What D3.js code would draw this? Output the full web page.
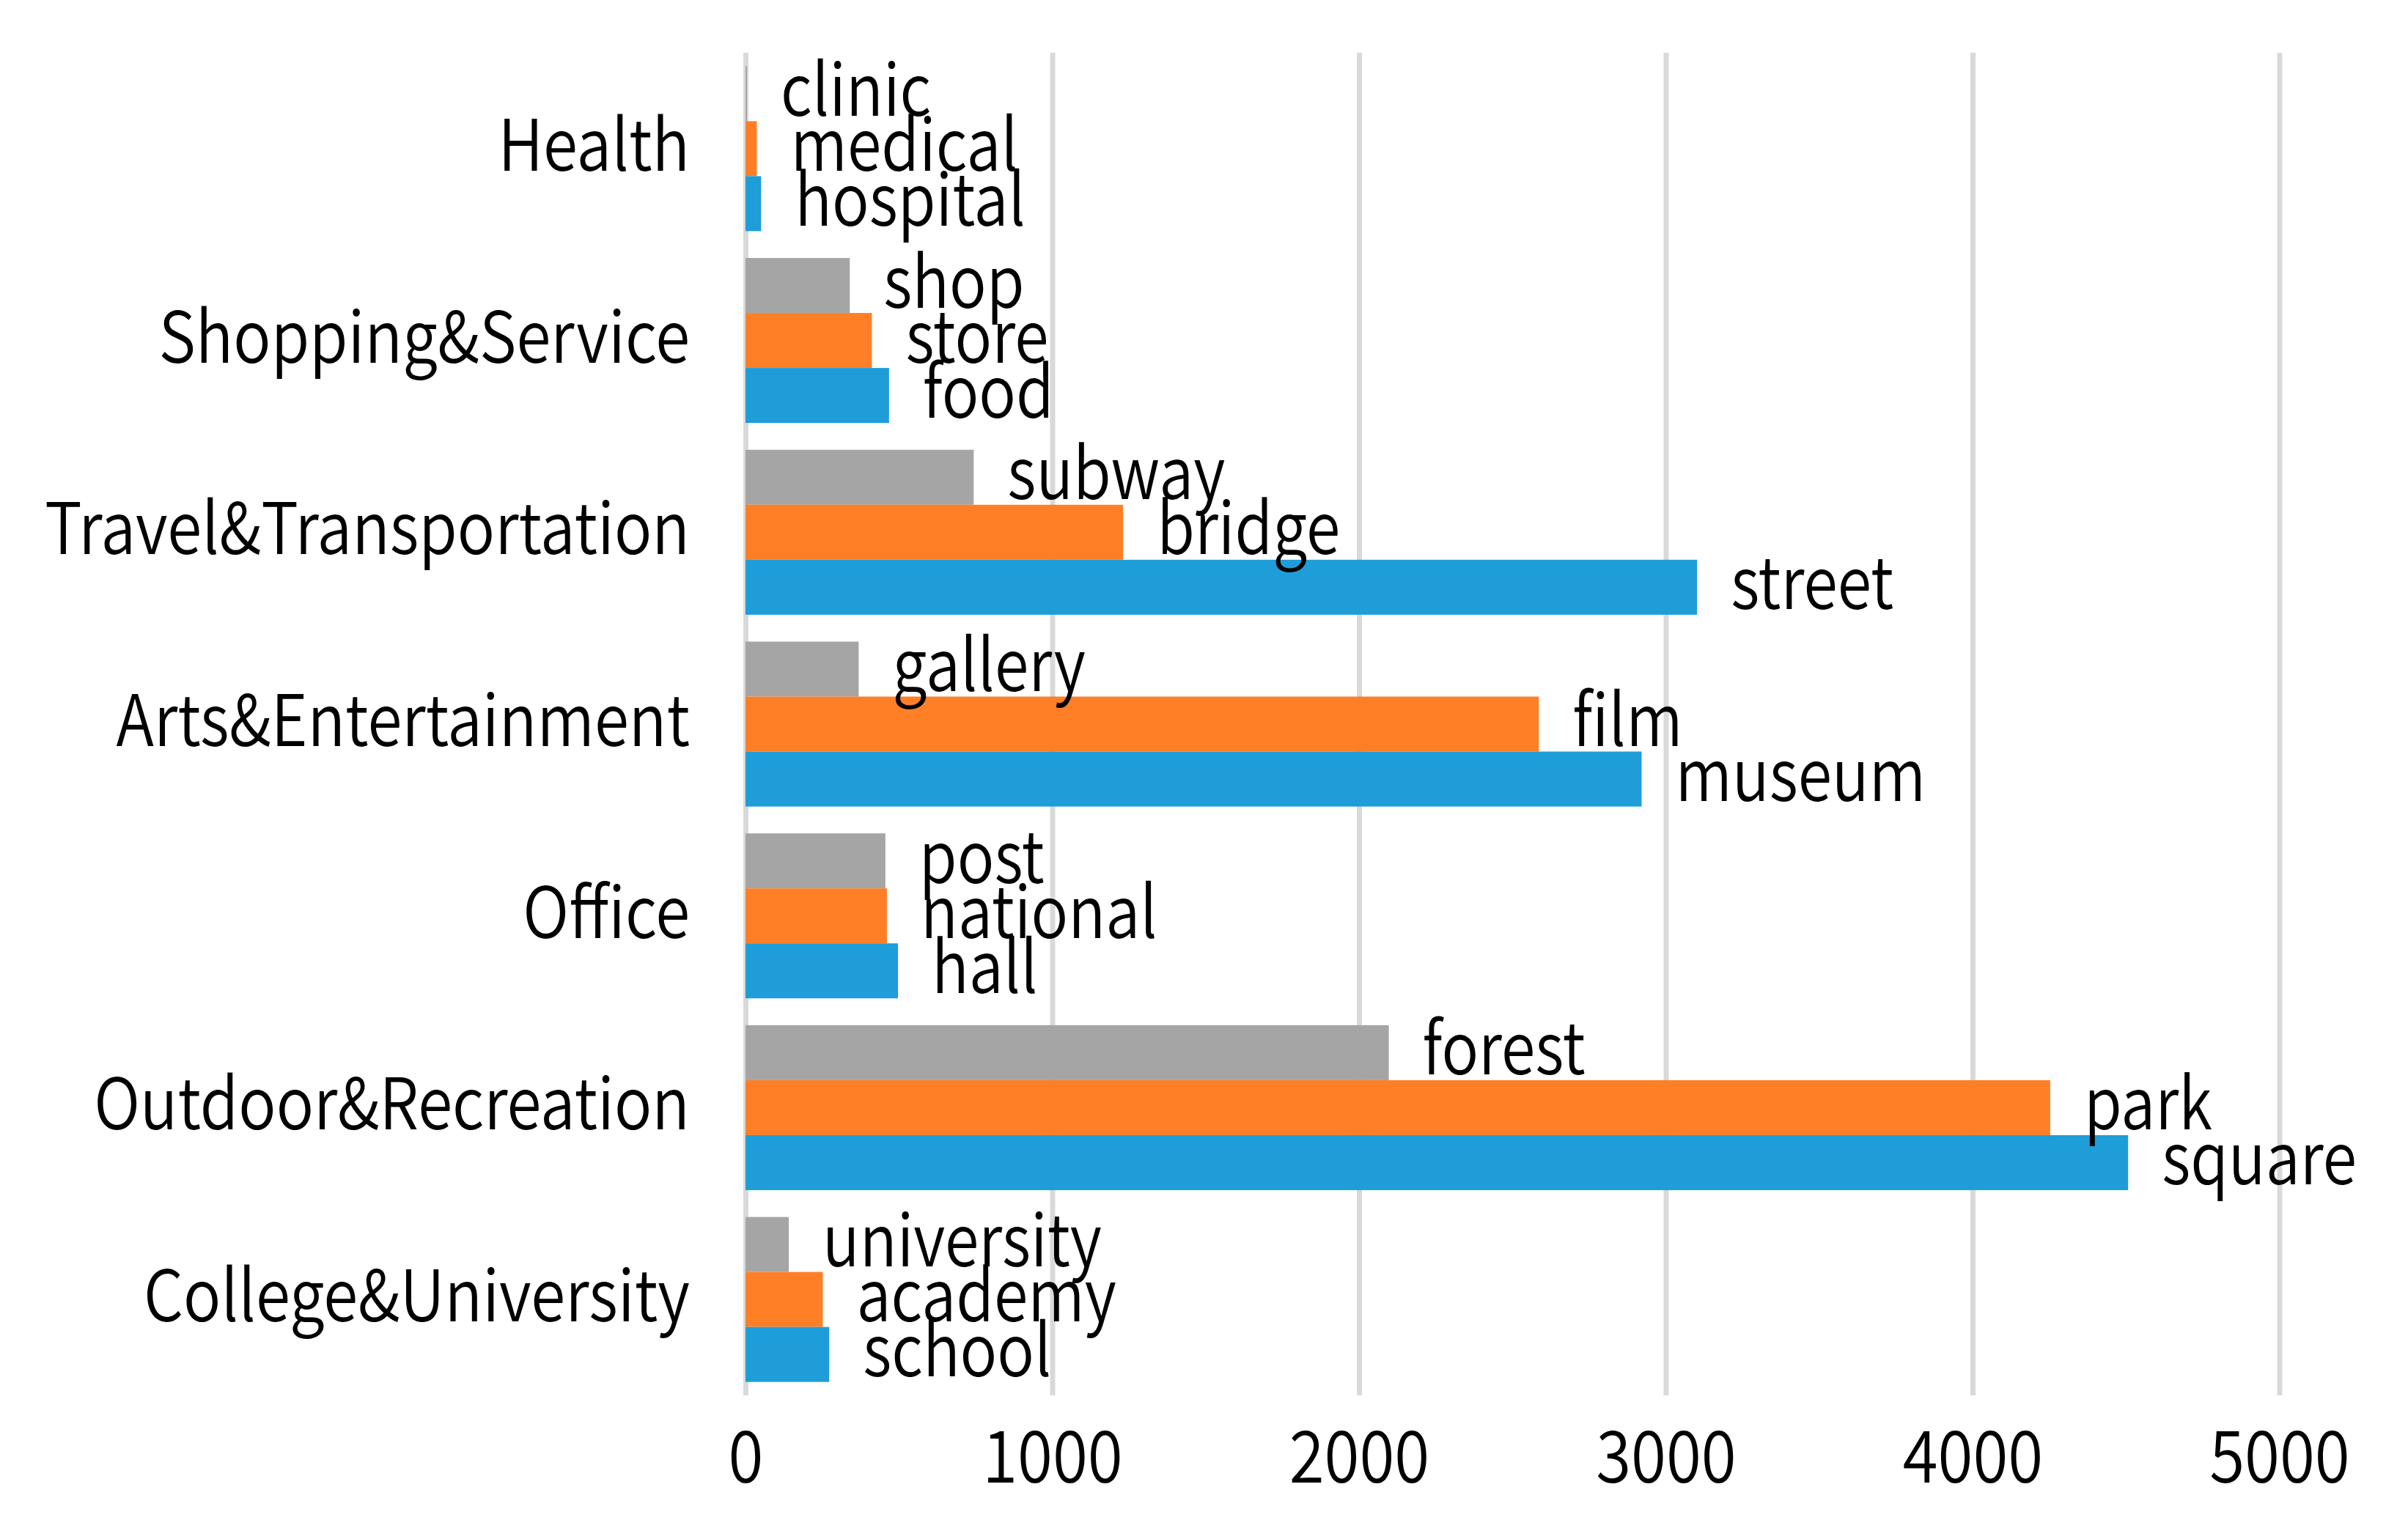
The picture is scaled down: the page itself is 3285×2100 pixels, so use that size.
<!DOCTYPE html>
<html lang="en">
	<head>
		<title>Category Word Counts</title>
		<script src="https://cdn.jsdelivr.net/npm/d3@7"></script>
		<style>
			body { margin: 0; background: #fff; }
			text { font-family: "Noto Sans CJK SC", "Noto Sans", sans-serif; font-weight: 350; fill: #000; }
		</style>
	</head>

	<body>
		<div id="chart"></div>

		<script>

			// categories, top to bottom
			var categories = ["Health", "Shopping&Service", "Travel&Transportation", "Arts&Entertainment",
							  "Office", "Outdoor&Recreation", "College&University"];

			// three series per category (drawn gray on top, orange middle, blue bottom)
			var grayWords   = ["clinic", "shop", "subway", "gallery", "post", "forest", "university"];
			var grayValues  = [5, 340, 744, 369, 456, 2097, 141];

			var orangeWords  = ["medical", "store", "bridge", "film", "national", "park", "academy"];
			var orangeValues = [37, 412, 1231, 2586, 461, 4253, 252];

			var blueWords  = ["hospital", "food", "street", "museum", "hall", "square", "school"];
			var blueValues = [51, 468, 3102, 2921, 497, 4507, 273];

			var xTicks = [0, 1000, 2000, 3000, 4000, 5000];

			var series = [
				{key: "gray",   color: "#A5A5A5", words: grayWords,   values: grayValues},
				{key: "orange", color: "#FF7F27", words: orangeWords, values: orangeValues},
				{key: "blue",   color: "#1E9DD8", words: blueWords,   values: blueValues}
			];

			var data = [];
			series.forEach(function(s) {
				categories.forEach(function(c, i) {
					data.push({cat: c, key: s.key, color: s.color, word: s.words[i], value: s.values[i]});
				});
			});

			var width = 3285;
			var height = 2100;
			var margin = ({top: 72, right: 175, bottom: 196, left: 1017});

			// the reference font is narrower than what we have, so squeeze the text a bit
			var squeezeLabel = 0.86;
			var squeezeTick = 0.89;
			var squeezeCat = 0.88;

			var svg = d3.select("#chart").append("svg")
						.attr("width", width)
						.attr("height", height)
						.attr("viewBox", [0, 0, width, height]);

			x = d3.scaleLinear()
					.domain([0, 5000])
					.range([margin.left, margin.left + 2092.5]);

			y = d3.scaleBand()
					.domain(categories)
					.range([margin.top, height - margin.bottom])
					.paddingInner(0.14)
					.paddingOuter(0.07);

			ySub = d3.scaleBand()
					.domain(series.map(s => s.key))
					.range([0, y.bandwidth()]);

			// gridlines
			svg.append("g")
				.attr("transform", `translate(0,${height - margin.bottom})`)
				.call(d3.axisBottom(x).tickValues(xTicks).tickSize(-(height - margin.bottom - margin.top)).tickFormat(""))
				.call(g => g.select(".domain").remove())
				.call(g => g.selectAll(".tick line").attr("stroke", "#D9D9D9").attr("stroke-width", 7));

			// bars
			svg.append("g")
				.selectAll("rect")
				.data(data)
				.enter().append("rect")
					.attr("x", x(0))
					.attr("y", d => y(d.cat) + ySub(d.key))
					.attr("width", d => x(d.value) - x(0))
					.attr("height", ySub.bandwidth())
					.attr("fill", d => d.color);

			// word labels
			svg.append("g")
				.selectAll("text")
				.data(data)
				.enter().append("text")
					.attr("transform", d => `translate(${x(d.value) + 46},${y(d.cat) + ySub(d.key) + ySub.bandwidth() / 2 + 30}) scale(${squeezeLabel},1)`)
					.attr("font-size", 98)
					.text(d => d.word);

			// x axis labels
			svg.append("g")
				.attr("transform", `translate(0,${height - margin.bottom})`)
				.call(d3.axisBottom(x).tickValues(xTicks).tickSize(0).tickFormat(d3.format("d")))
				.call(g => g.select(".domain").remove())
				.call(g => g.selectAll(".tick text")
					.attr("y", null).attr("dy", null)
					.attr("transform", `translate(0,119) scale(${squeezeTick},1)`)
					.attr("font-size", 98).attr("font-family", null).attr("fill", "#000"));

			// category labels
			svg.append("g")
				.attr("transform", `translate(${margin.left - 76},0)`)
				.call(d3.axisLeft(y).tickSize(0).tickPadding(0))
				.call(g => g.select(".domain").remove())
				.call(g => g.selectAll(".tick text")
					.attr("x", null).attr("dy", null)
					.attr("transform", `translate(0,30) scale(${squeezeCat},1)`)
					.attr("font-size", 97).attr("font-family", null).attr("fill", "#000"));

		</script>
	</body>
</html>
